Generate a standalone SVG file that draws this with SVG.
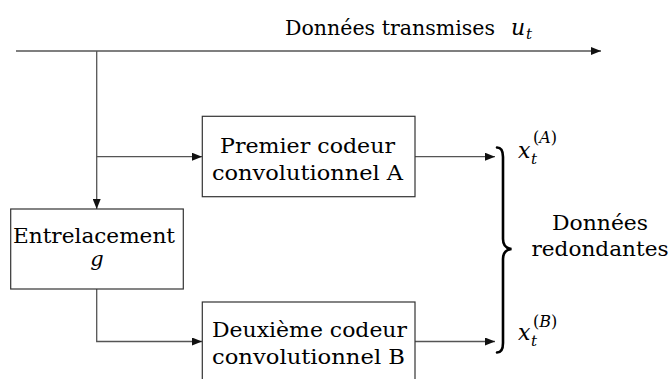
<svg xmlns="http://www.w3.org/2000/svg" width="672" height="379" viewBox="0 0 672 379">
  <style>
    .box { fill: #ffffff; stroke: #333333; stroke-width: 1.2; }
    .wire { fill: none; stroke: #555555; stroke-width: 1.3; }
    .lbl { font-family: "DejaVu Serif", "Liberation Serif", serif; font-size: 21px; fill: #000000; }
    .math { font-family: "DejaVu Serif", "Liberation Serif", serif; font-style: italic; fill: #000000; }
    .sup { font-family: "DejaVu Serif", "Liberation Serif", serif; font-size: 16px; fill: #000000; }
    .brace { fill: none; stroke: #000000; stroke-width: 2.6; stroke-linecap: round; }
  </style>
  <defs>
    <marker id="arrow" viewBox="0 0 10 8" refX="10" refY="4" markerWidth="10" markerHeight="8" markerUnits="userSpaceOnUse" orient="auto">
      <path d="M0,0 L10,4 L0,8 Z" fill="#111111"/>
    </marker>
  </defs>

  <rect width="672" height="379" fill="#ffffff"/>

  <!-- connectors -->
  <g id="connectors">
    <path class="wire" d="M16,51 H601" marker-end="url(#arrow)"/>
    <path class="wire" d="M96.7,51 V209" marker-end="url(#arrow)"/>
    <path class="wire" d="M96.7,156.7 H202" marker-end="url(#arrow)"/>
    <path class="wire" d="M96.7,289 V341.5 H202" marker-end="url(#arrow)"/>
    <path class="wire" d="M415,156.7 H495" marker-end="url(#arrow)"/>
    <path class="wire" d="M415,341.5 H495" marker-end="url(#arrow)"/>
  </g>

  <!-- transmitted data label -->
  <g id="transmitted">
    <text class="lbl" x="285" y="35" textLength="210" lengthAdjust="spacingAndGlyphs">Données transmises</text>
    <text class="math" x="511" y="35" font-size="22">u</text>
    <text class="math" x="526" y="39" font-size="15">t</text>
  </g>

  <!-- first convolutional encoder -->
  <g id="encoderA">
    <rect class="box" x="202.3" y="116.3" width="212.7" height="80.4"/>
    <text class="lbl" x="220" y="153" textLength="175" lengthAdjust="spacingAndGlyphs">Premier codeur</text>
    <text class="lbl" x="212" y="180" textLength="191" lengthAdjust="spacingAndGlyphs">convolutionnel A</text>
  </g>

  <!-- interleaver -->
  <g id="interleaver">
    <rect class="box" x="10.7" y="209" width="172.6" height="80"/>
    <text class="lbl" x="13" y="243" textLength="162" lengthAdjust="spacingAndGlyphs">Entrelacement</text>
    <text class="math" x="97" y="266" font-size="21" text-anchor="middle">g</text>
  </g>

  <!-- second convolutional encoder -->
  <g id="encoderB">
    <rect class="box" x="202.3" y="302" width="212.7" height="80"/>
    <text class="lbl" x="212" y="337" textLength="195" lengthAdjust="spacingAndGlyphs">Deuxième codeur</text>
    <text class="lbl" x="212" y="364" textLength="193" lengthAdjust="spacingAndGlyphs">convolutionnel B</text>
  </g>

  <!-- redundant outputs -->
  <g id="outputs">
    <text class="math" x="518" y="158" font-size="22">x</text>
    <text class="math" x="531" y="164" font-size="15">t</text>
    <text class="sup" x="533" y="143">(<tspan font-style="italic">A</tspan>)</text>
    <text class="math" x="518" y="340" font-size="22">x</text>
    <text class="math" x="531" y="346" font-size="15">t</text>
    <text class="sup" x="533" y="327">(<tspan font-style="italic">B</tspan>)</text>
    <path class="brace" d="M497,147.5 Q503,147.5 503,157 L503,239 Q503,248 511.5,249 Q503,250 503,259 L503,343 Q503,352.5 497,352.5"/>
    <text class="lbl" x="600" y="230" text-anchor="middle" textLength="96" lengthAdjust="spacingAndGlyphs">Données</text>
    <text class="lbl" x="600" y="256" text-anchor="middle" textLength="137" lengthAdjust="spacingAndGlyphs">redondantes</text>
  </g>
</svg>
